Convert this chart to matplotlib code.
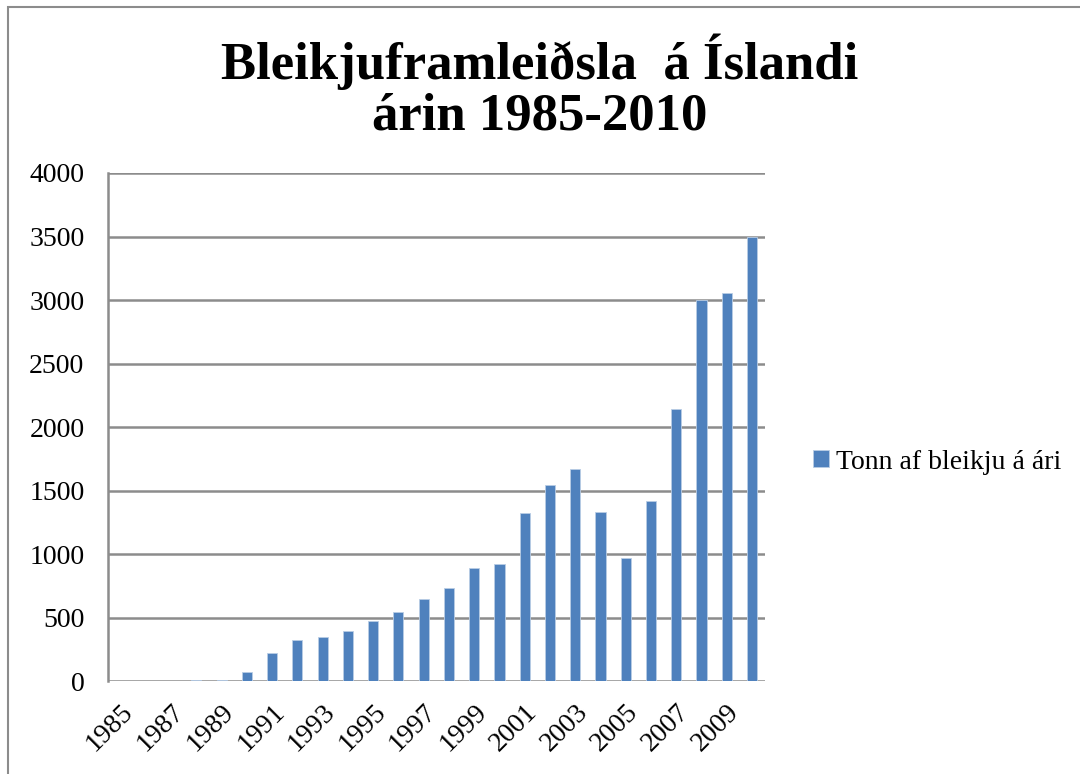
import matplotlib.pyplot as plt
from matplotlib.patches import Rectangle

years = list(range(1985, 2011))
tonn = [0, 0, 0, 12, 12, 70, 220, 323, 344, 394, 475, 543, 645, 732, 890,
        920, 1320, 1540, 1670, 1330, 970, 1420, 2140, 3000, 3055, 3500]
yticks = [0, 500, 1000, 1500, 2000, 2500, 3000, 3500, 4000]
xlabels = [str(y) if (y - 1985) % 2 == 0 else '' for y in years]

plt.rcParams['font.family'] = ['Liberation Serif', 'DejaVu Serif']

fig = plt.figure(figsize=(10.8, 7.74), dpi=100)
ax = fig.add_axes([0.1, 0.12, 0.608, 0.6565])

pos = list(range(len(years)))
ax.bar(pos, tonn, width=0.4, color='#4F81BD', edgecolor='#B9CDE5', linewidth=0.6,
       label='Tonn af bleikju á ári', zorder=3)

ax.set_xlim(-0.5, len(years) - 0.5)
ax.set_ylim(0, 4000)
ax.set_yticks(yticks)
ax.set_yticklabels([str(v) for v in yticks], fontsize=20)
ax.set_xticks(pos)
ax.set_xticklabels(xlabels, fontsize=20, rotation=45, ha='right', va='top',
                   rotation_mode='anchor')
ax.tick_params(axis='x', length=0, pad=13)
ax.tick_params(axis='y', length=0, pad=17)
ax.yaxis.grid(True, color='#8c8c8c', linewidth=1.8, zorder=0)
for s in ['top', 'right', 'bottom']:
    ax.spines[s].set_visible(False)
ax.spines['left'].set_color('#8c8c8c')
ax.spines['left'].set_linewidth(1.8)

fig.text(0.5, 0.92, 'Bleikjuframleiðsla  á Íslandi', ha='center', va='center',
         fontsize=38, fontweight='bold')
fig.text(0.5, 0.85, 'árin 1985-2010', ha='center', va='center',
         fontsize=38, fontweight='bold')

fig.legend(loc='center left', bbox_to_anchor=(0.73, 0.403), frameon=False,
           fontsize=20, handlelength=0.55, handleheight=0.55, handletextpad=0.25)

fig.patches.append(Rectangle((0.007, -0.1), 1.2, 1.091, transform=fig.transFigure,
                             fill=False, edgecolor='#8c8c8c', linewidth=1.5))

fig.savefig('out.png', dpi=100)
